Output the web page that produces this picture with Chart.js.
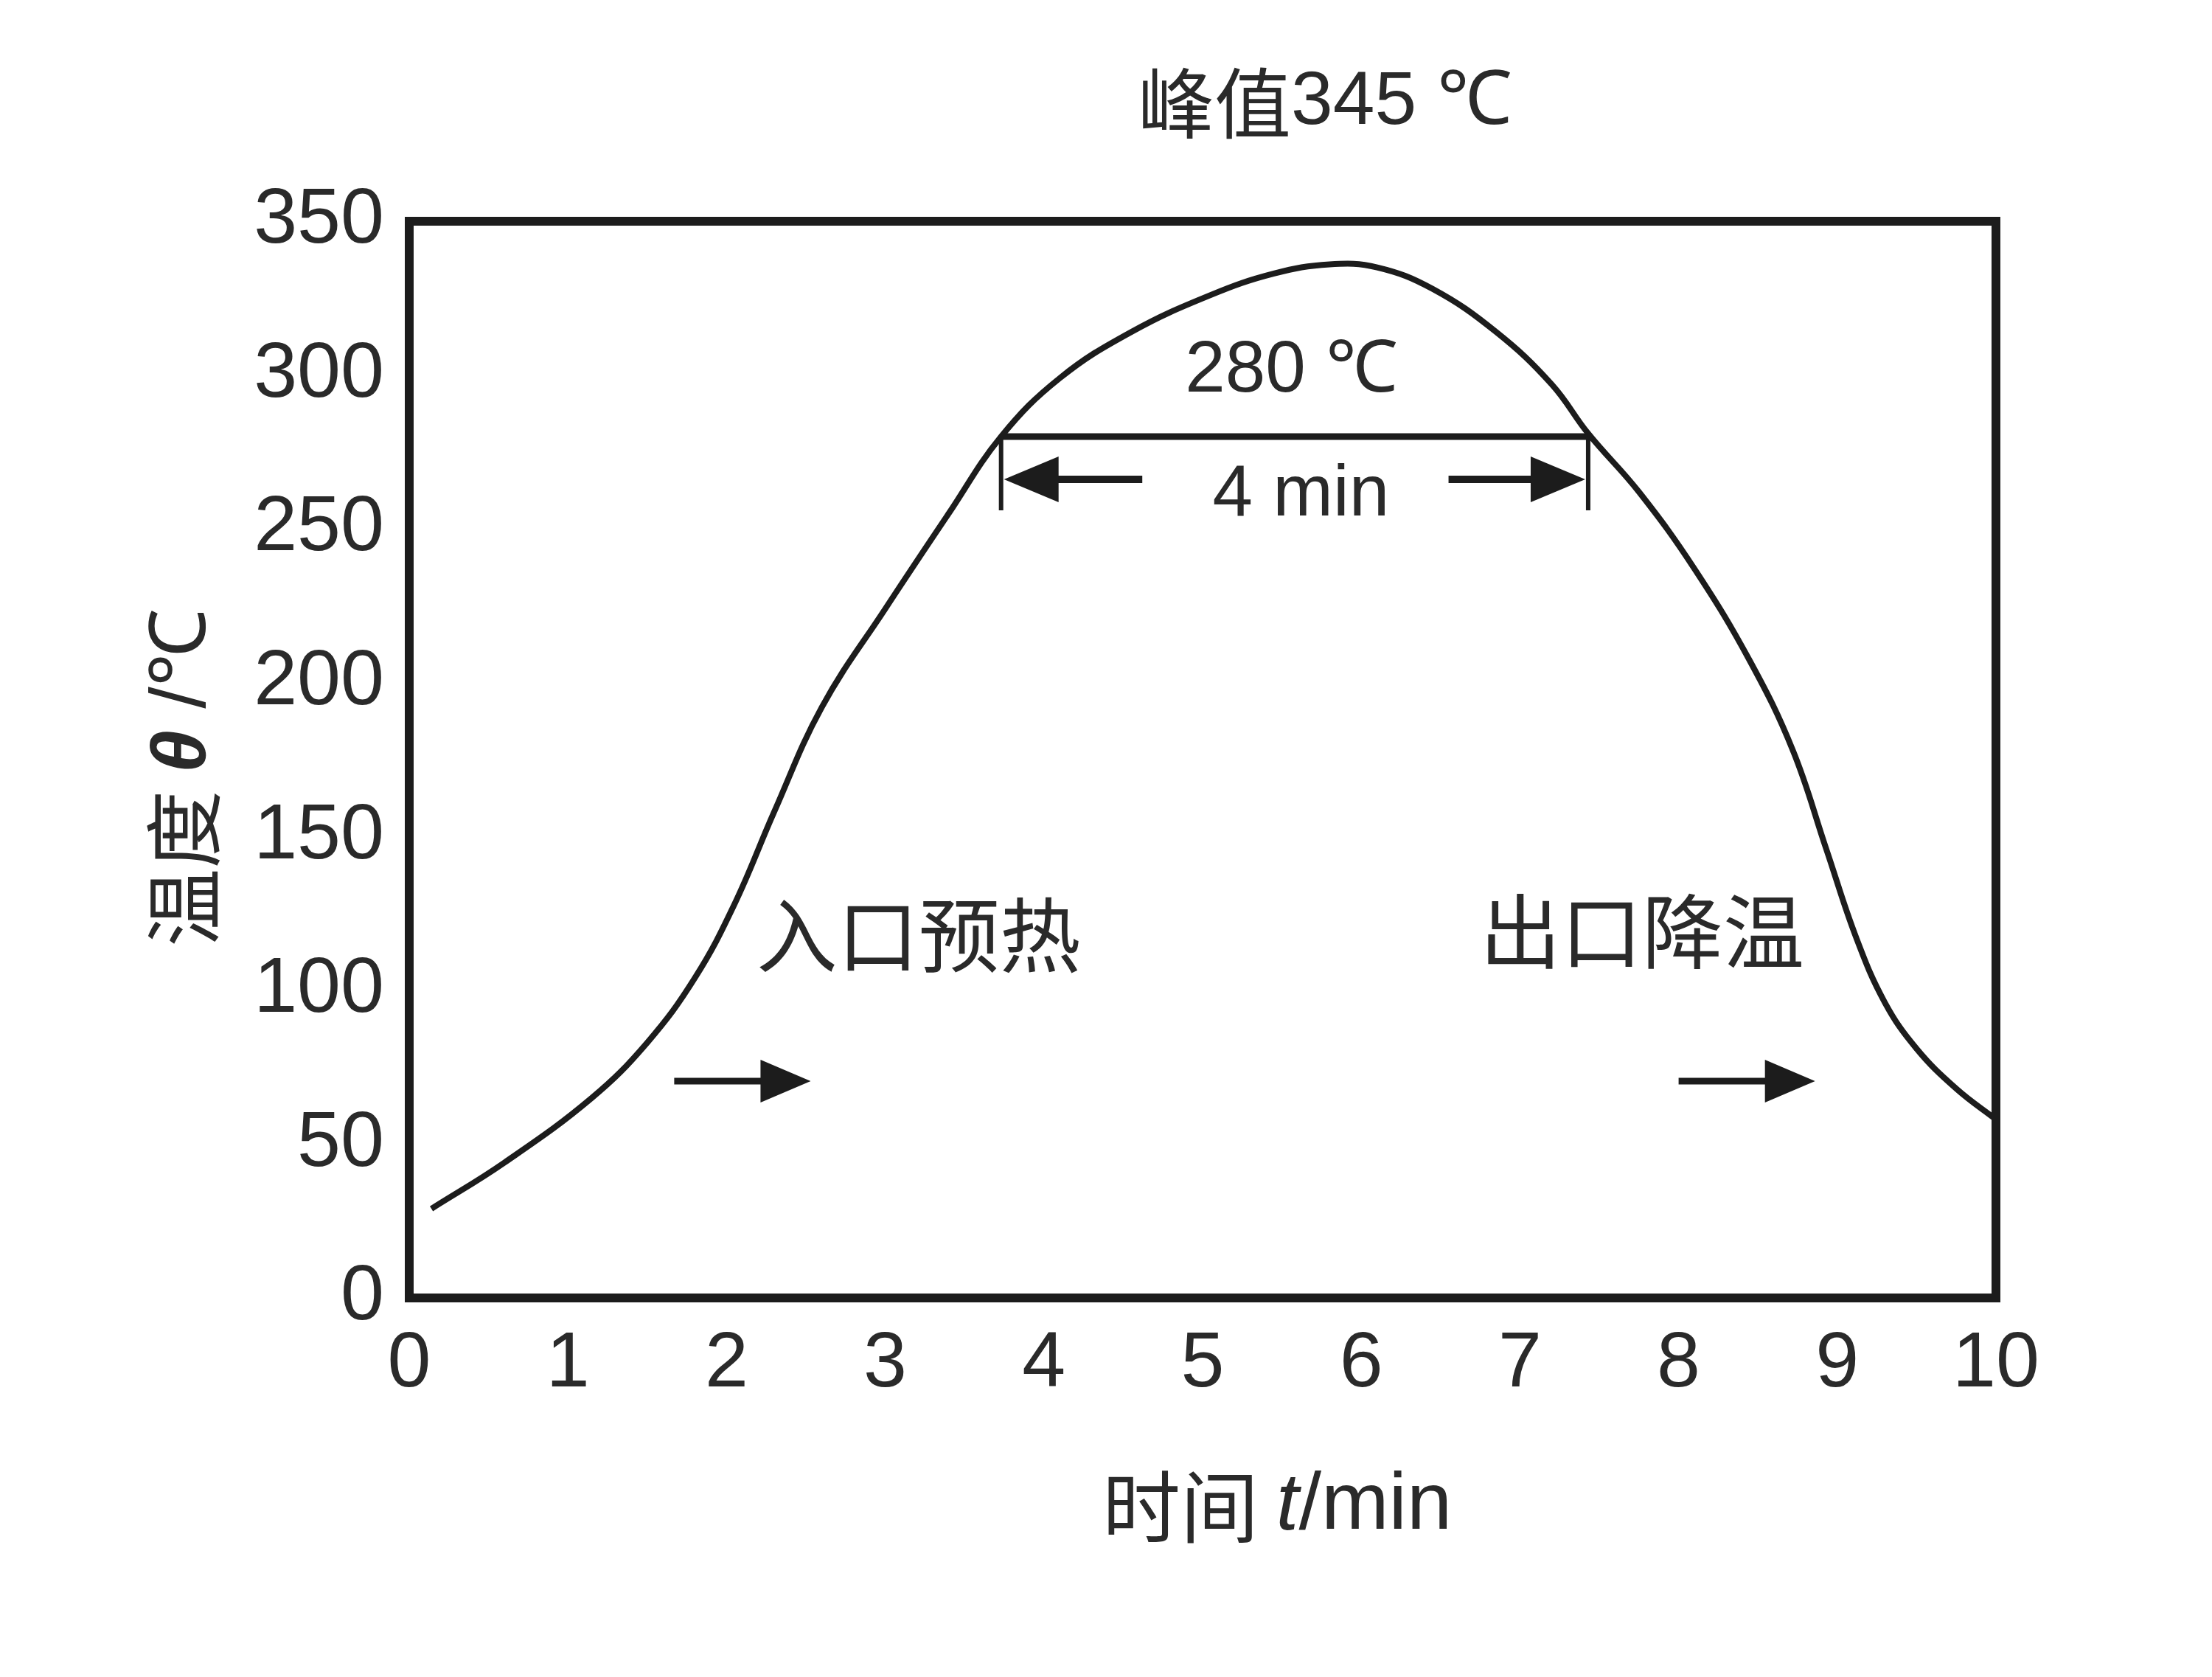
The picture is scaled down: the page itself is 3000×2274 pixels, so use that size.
<!DOCTYPE html>
<html>
<head>
<meta charset="utf-8">
<script src="https://cdn.jsdelivr.net/npm/chart.js@4.4.0/dist/chart.umd.min.js"></script>
<style>
  html, body { margin: 0; padding: 0; background: #fff; }
</style>
</head>
<body>
<canvas id="grafico" width="3000" height="2274"></canvas>
<script>
// Curva de temperatura
const tiempo = [0.14, 0.60, 1.15, 1.50, 1.80, 2.05, 2.30, 2.60, 3.00, 3.40, 3.73, 4.10, 4.55, 5.05, 5.45, 5.80, 6.10, 6.45, 6.85, 7.20, 7.43, 7.75, 8.10, 8.45, 8.72, 8.93, 9.12, 9.30, 9.50, 9.75, 10.0];
const temperatura = [29, 44, 65, 83, 104, 128, 158, 192, 224, 255, 280, 299, 314, 326, 333, 336, 335, 328, 314, 297, 281, 262, 237, 207, 178, 146, 117, 96, 81, 68, 58];

// Ejes
const ejeX = { min: 0, max: 10, paso: 1 };
const ejeY = { min: 0, max: 350, paso: 50 };

// Textos
const textoNivel = '280 ℃';
const textoTramo = '4 min';
const textoEntrada = '入口预热';
const textoSalida = '出口降温';

// Tramo a 280 ℃ (min)
const nivel = 280;
const tramo = [3.73, 7.43];
// Flechas de avance (min) a ~70 ℃
const flechaEntrada = [1.67, 2.53];
const flechaSalida = [8.00, 8.86];
const nivelFlechas = 70.5;

const NEGRO = '#1c1c1c';
const TEXTO = '#2a2a2a';
const CJK = '"Noto Sans CJK SC", "Liberation Sans", sans-serif';
const LATIN = '"Liberation Sans", Arial, sans-serif';

function flecha(ctx, x0, x1, y, grosor, largo, alto) {
  // x1 es la punta
  const dir = Math.sign(x1 - x0);
  ctx.lineWidth = grosor;
  ctx.beginPath();
  ctx.moveTo(x0, y);
  ctx.lineTo(x1 - dir * largo * 0.6, y);
  ctx.stroke();
  ctx.beginPath();
  ctx.moveTo(x1, y);
  ctx.lineTo(x1 - dir * largo, y - alto);
  ctx.lineTo(x1 - dir * largo, y + alto);
  ctx.closePath();
  ctx.fill();
}

function textoMixto(ctx, partes, cx, cy) {
  // partes: [texto, fuente]
  let total = 0;
  partes.forEach(p => { ctx.font = p[1]; total += ctx.measureText(p[0]).width; });
  let x = cx - total / 2;
  ctx.textAlign = 'left';
  ctx.textBaseline = 'middle';
  partes.forEach(p => {
    ctx.font = p[1];
    ctx.fillText(p[0], x, cy);
    x += ctx.measureText(p[0]).width;
  });
}

const anotaciones = {
  id: 'anotaciones',
  afterDraw(chart) {
    const { ctx, chartArea: a, scales: { x, y } } = chart;
    ctx.save();
    ctx.strokeStyle = NEGRO;
    ctx.fillStyle = NEGRO;

    // marco
    ctx.lineWidth = 12;
    ctx.strokeRect(a.left, a.top, a.right - a.left, a.bottom - a.top);

    // línea de 280 ℃ y cotas
    const yN = y.getPixelForValue(nivel);
    const xa = x.getPixelForValue(tramo[0]);
    const xb = x.getPixelForValue(tramo[1]);
    ctx.lineWidth = 9;
    ctx.beginPath();
    ctx.moveTo(xa, yN);
    ctx.lineTo(xb, yN);
    ctx.stroke();
    ctx.lineWidth = 6;
    ctx.beginPath();
    ctx.moveTo(xa, yN);
    ctx.lineTo(xa, yN + 100);
    ctx.moveTo(xb, yN);
    ctx.lineTo(xb, yN + 100);
    ctx.stroke();
    const yF = yN + 58;
    flecha(ctx, x.getPixelForValue(4.62), xa + 4, yF, 10, 74, 31);
    flecha(ctx, x.getPixelForValue(6.55), xb - 4, yF, 10, 74, 31);

    // flechas pequeñas
    const yP = y.getPixelForValue(nivelFlechas);
    flecha(ctx, x.getPixelForValue(flechaEntrada[0]), x.getPixelForValue(flechaEntrada[1]), yP, 9, 68, 29);
    flecha(ctx, x.getPixelForValue(flechaSalida[0]), x.getPixelForValue(flechaSalida[1]), yP, 9, 68, 29);

    // textos
    ctx.fillStyle = TEXTO;
    textoMixto(ctx, [['峰值', '104px ' + CJK], ['345 ℃', '102px ' + LATIN]], x.getPixelForValue(5.77), a.top - 160);
    textoMixto(ctx, [[textoNivel, '98px ' + LATIN]], x.getPixelForValue(5.56), y.getPixelForValue(301));
    textoMixto(ctx, [[textoTramo, '98px ' + LATIN]], x.getPixelForValue(5.62), yF + 22);
    textoMixto(ctx, [[textoEntrada, '110px ' + CJK]], x.getPixelForValue(3.21), y.getPixelForValue(118));
    textoMixto(ctx, [[textoSalida, '110px ' + CJK]], x.getPixelForValue(7.77), y.getPixelForValue(119));

    // título eje x
    textoMixto(ctx, [['时间 ', '106px ' + CJK], ['t', 'italic 110px ' + LATIN], ['/min', '110px ' + LATIN]],
      x.getPixelForValue(5.47), a.bottom + 283);

    // título eje y
    ctx.translate(a.left - 306, y.getPixelForValue(169));
    ctx.rotate(-Math.PI / 2);
    textoMixto(ctx, [['温度 ', '106px ' + CJK], ['θ', 'italic bold 104px ' + LATIN], [' /℃', '106px ' + LATIN]], 0, 0);

    ctx.restore();
  }
};

const ctx = document.getElementById('grafico').getContext('2d');
new Chart(ctx, {
  type: 'line',
  data: {
    datasets: [{
      data: tiempo.map((t, i) => ({ x: t, y: temperatura[i] })),
      borderColor: NEGRO,
      borderWidth: 8,
      pointRadius: 0,
      fill: false,
      tension: 0.4
    }]
  },
  options: {
    responsive: false,
    animation: false,
    devicePixelRatio: 1,
    layout: { padding: { top: 300, right: 293, left: 0, bottom: 0 } },
    plugins: { legend: { display: false }, tooltip: { enabled: false } },
    scales: {
      x: {
        type: 'linear',
        min: ejeX.min,
        max: ejeX.max,
        grid: { display: false, drawTicks: false },
        border: { display: false },
        ticks: { stepSize: ejeX.paso, color: TEXTO, padding: 27, font: { family: LATIN, size: 106 } },
        afterFit: s => { s.height = 514; }
      },
      y: {
        min: ejeY.min,
        max: ejeY.max,
        grid: { display: false, drawTicks: false },
        border: { display: false },
        ticks: { stepSize: ejeY.paso, color: TEXTO, padding: 34, font: { family: LATIN, size: 106 } },
        afterFit: s => { s.width = 555; }
      }
    }
  },
  plugins: [anotaciones]
});
</script>
</body>
</html>
